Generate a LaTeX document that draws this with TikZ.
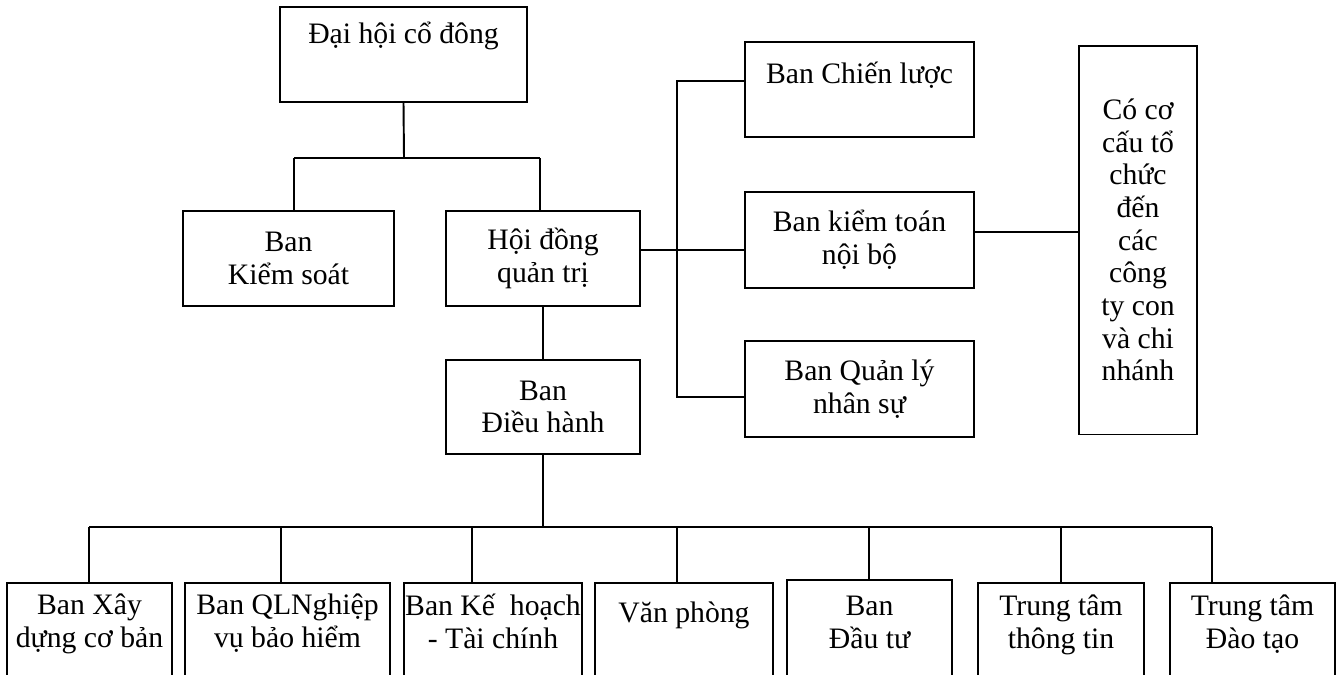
\documentclass[tikz,border=0pt]{standalone}
\usepackage{fontspec}
\setmainfont{Liberation Serif}
\usepackage{tikz}
\usetikzlibrary{positioning,calc}

\begin{document}
\begin{tikzpicture}[x=0.02cm,y=-0.02cm,line width=1.1pt,
    box/.style={rectangle,draw,inner sep=0pt,align=center,font=\fontsize{16.9}{18.6}\selectfont},
    txt/.style={inner sep=0pt,anchor=north,align=center,font=\fontsize{16.9}{18.6}\selectfont,execute at begin node=\strut}]

\useasboundingbox (0,0) rectangle (1338,674);
\clip (0,0) rectangle (1338,674);

% Dai hoi co dong, Ban kiem soat, HDQT
\node[box,minimum width=4.94cm,minimum height=1.9cm] (dhcd) at (403.5,54.5) {};
\node[txt,below=0.28cm of dhcd.north] (dhcd-t) {Đại hội cổ đông};
\node[box,minimum width=4.22cm,minimum height=1.9cm] (bks) at (288.5,258.5) {Ban\\Kiểm soát};
\node[box,minimum width=3.88cm,minimum height=1.9cm] (hdqt) at (543,258.5) {Hội đồng\\quản trị};
\node[box,minimum width=3.88cm,minimum height=1.88cm] (bdh) at (543,407) {Ban\\Điều hành};

% Cac ban truc thuoc HDQT
\node[box,minimum width=4.58cm,minimum height=1.9cm] (bcl) at (859.5,89.5) {};
\node[txt,below=0.38cm of bcl.north] (bcl-t) {Ban Chiến lược};
\node[box,minimum width=4.58cm,minimum height=1.92cm] (bktnb) at (859.5,240) {Ban kiểm toán\\nội bộ};
\node[box,minimum width=4.58cm,minimum height=1.92cm] (bqlns) at (859.5,389) {Ban Quản lý\\nhân sự};
\node[box,minimum width=2.36cm,minimum height=7.78cm] (ccct) at (1138,240)
    {Có cơ\\cấu tổ\\chức\\đến\\các\\công\\ty con\\và chi\\nhánh};

% Noi cap tren
\coordinate (j-dhcd) at (404,158);
\coordinate (j-bks) at (294,158);
\coordinate (j-hdqt) at (540,158);
\draw (dhcd.south) -- (j-dhcd);
\draw (j-bks) -- (j-hdqt);
\draw (j-bks) -- (j-bks |- bks.north);
\draw (j-hdqt) -- (j-hdqt |- hdqt.north);
\draw (hdqt.south) -- (bdh.north);

% Noi ben phai
\coordinate (k-l) at (677,250);
\coordinate (k-r) at (1000,232);
\coordinate (v-top) at (677,81);
\coordinate (v-bot) at (677,397);
\draw (k-l -| hdqt.east) -- (k-l -| bktnb.west);
\draw (v-top -| bcl.west) -- (v-top) -- (v-bot) -- (v-bot -| bqlns.west);
\draw (k-r -| bktnb.east) -- (k-r -| ccct.west);

% Cac ban duoi Ban Dieu hanh
\coordinate (bus) at (541,527);
\draw (bdh.south) -- (bdh.south |- bus);
\foreach \nm/\cx/\ty/\w/\dx/\dy/\txt in {
    xdcb/89.5/582/3.3/89/0.22/{Ban Xây\\dựng cơ bản},
    qlnv/287.5/582/4.1/281/0.22/{Ban QLNghiệp\\vụ bảo hiểm},
    khtc/493/582/3.56/472/0.22/{Ban Kế\ \ hoạch\\- Tài chính},
    vp/684/582/3.56/677/0.34/{Văn phòng},
    dt/869.5/579/3.3/869/0.32/{Ban\\Đầu tư},
    tttt/1061/582/3.32/1061/0.24/{Trung tâm\\thông tin},
    ttdt/1252.5/582/3.3/1212/0.24/{Trung tâm\\Đào tạo}} {
    \node[box,minimum width=\w cm,minimum height=2.4cm,anchor=north] (\nm) at (\cx,\ty) {};
    \node[txt,below=\dy cm of \nm.north] (\nm-t) {\txt};
    \coordinate (d-\nm) at (\dx,527);
    \draw (d-\nm) -- (d-\nm |- \nm.north);
}
\draw (d-xdcb) -- (d-ttdt);

\end{tikzpicture}
\end{document}
